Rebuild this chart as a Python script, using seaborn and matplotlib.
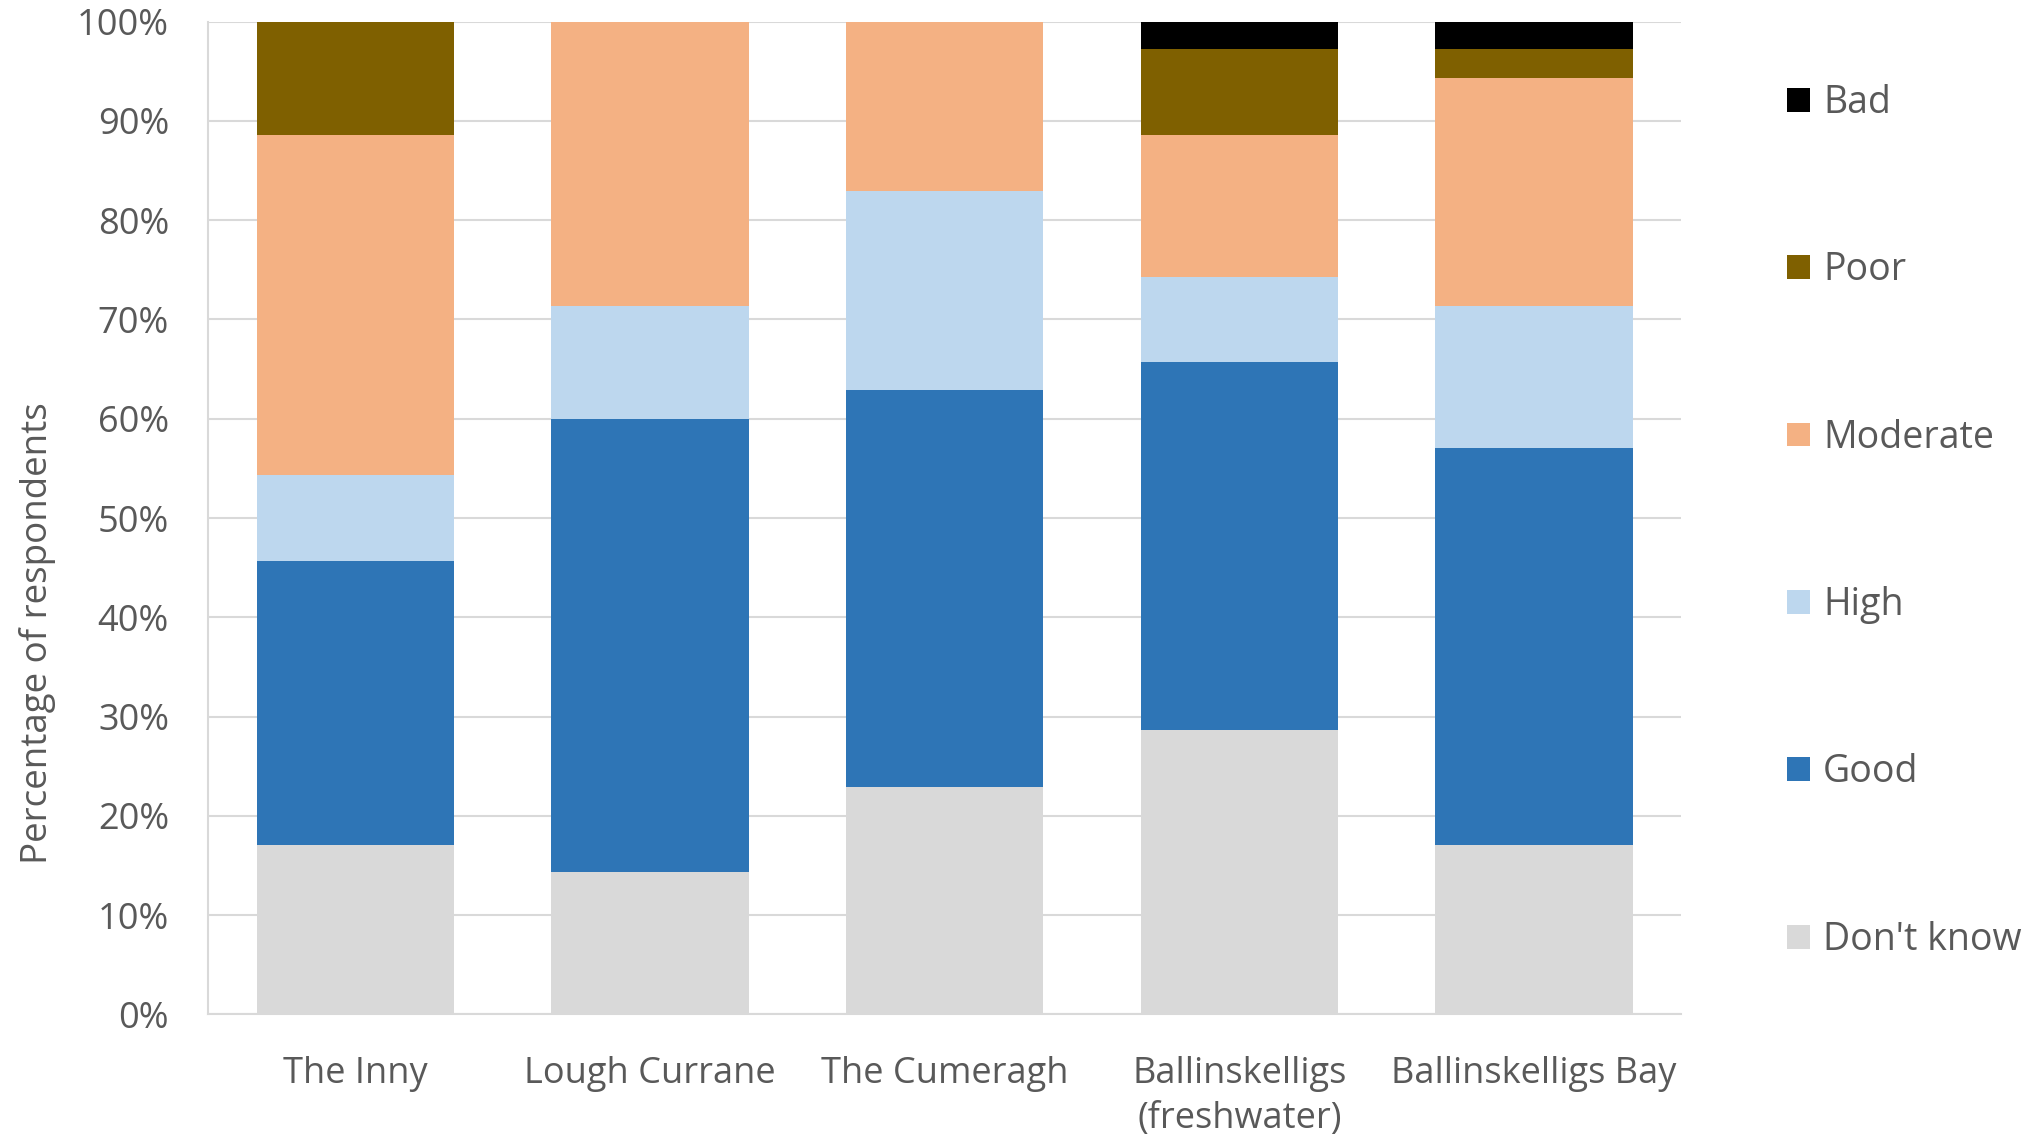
import matplotlib
matplotlib.use("Agg")
import matplotlib.pyplot as plt
import numpy as np
import pandas as pd
import seaborn as sns
from matplotlib.ticker import PercentFormatter

sites = ["The Inny", "Lough Currane", "The Cumeragh",
         "Ballinskelligs\n(freshwater)", "Ballinskelligs Bay"]

# percentage of respondents per rating (bottom to top of each bar)
dont_know = [17.1, 14.3, 22.9, 28.6, 17.1]
good = [28.6, 45.7, 40.0, 37.1, 40.0]
high = [8.6, 11.4, 20.0, 8.6, 14.3]
moderate = [34.3, 28.6, 17.1, 14.3, 22.9]
poor = [11.4, 0.0, 0.0, 8.6, 2.9]
bad = [0.0, 0.0, 0.0, 2.8, 2.8]

levels = ["Don't know", "Good", "High", "Moderate", "Poor", "Bad"]
colors = ["#D9D9D9", "#2E75B6", "#BDD7EE", "#F4B183", "#7F6000", "#000000"]

TEXT = "#595959"
sns.set_style("white")
plt.rcParams["font.family"] = ["Open Sans", "DejaVu Sans"]

df = pd.DataFrame({"site": sites, "Don't know": dont_know, "Good": good,
                   "High": high, "Moderate": moderate, "Poor": poor, "Bad": bad})
cum = df[levels].cumsum(axis=1)

fig = plt.figure(figsize=(20.38, 11.41), dpi=100)
ax = fig.add_axes([0.102, 0.111, 0.723, 0.870])

# stacked bars: draw cumulative totals from the top level down
for level, col in zip(levels[::-1], colors[::-1]):
    sns.barplot(x=df["site"], y=cum[level], color=col, saturation=1,
                width=0.67, linewidth=0, label=level, ax=ax, zorder=2)

ax.set_ylim(0, 100)
ax.set_xlim(-0.5, 4.5)
ax.set_yticks(np.arange(0, 101, 10))
ax.yaxis.set_major_formatter(PercentFormatter(decimals=0))
ax.grid(axis="y", color="#D9D9D9", linewidth=1.5, zorder=0)
ax.set_axisbelow(True)
for side in ["top", "right"]:
    ax.spines[side].set_visible(False)
ax.spines["left"].set_color("#D9D9D9")
ax.spines["bottom"].set_color("#D9D9D9")
ax.spines["left"].set_linewidth(1.5)
ax.spines["bottom"].set_linewidth(1.5)
ax.tick_params(axis="y", length=0, pad=28, labelsize=26, labelcolor=TEXT)
ax.tick_params(axis="x", length=0, pad=30, labelsize=26, labelcolor=TEXT)
for lab in ax.get_xticklabels():
    lab.set_linespacing(1.35)
ax.set_xlabel("")
ax.set_ylabel("Percentage of respondents", fontsize=26.5, color=TEXT)
ax.yaxis.set_label_coords(-0.103, 0.384)

handles, labels = ax.get_legend_handles_labels()
ax.get_legend().remove()
fig.legend(handles, labels, loc="center left", bbox_to_anchor=(0.877, 0.543),
           frameon=False, fontsize=27, labelcolor=TEXT, labelspacing=3.45,
           handlelength=0.6, handleheight=0.6, handletextpad=0.35,
           borderpad=0, borderaxespad=0)

fig.savefig("out.png", dpi=100)
